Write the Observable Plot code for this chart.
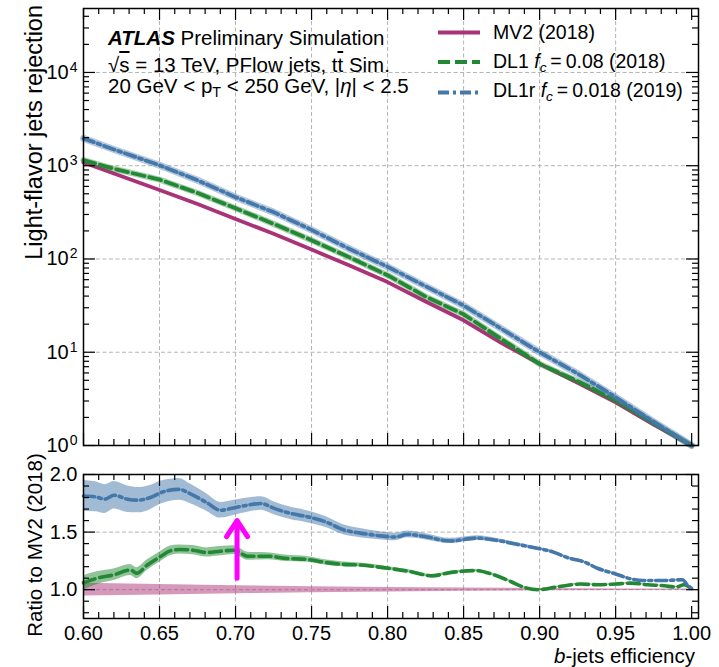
<!DOCTYPE html>
<html><head><meta charset="utf-8">
<script src="https://cdn.jsdelivr.net/npm/d3@7"></script>
<script src="https://cdn.jsdelivr.net/npm/@observablehq/plot@0.6"></script>
<style>
body{margin:0;background:#fff;}
#wrap{position:relative;width:719px;height:667px;font-family:"Liberation Sans",Arial,sans-serif;color:#000;overflow:hidden;}
#wrap svg{position:absolute;left:0;}
.abs{position:absolute;white-space:nowrap;line-height:1;}
.ov{text-decoration:overline;}
sub{font-size:0.7em;vertical-align:-0.3em;line-height:0;}
</style></head><body><div id="wrap"></div>
<script>
// ---------------- data ----------------
const effTop  = [0.60,0.62,0.65,0.675,0.70,0.725,0.75,0.775,0.80,0.825,0.85,0.875,0.90,0.925,0.95,0.975,1.00];
const rejMV2  = [1085,825,550,388,269,186,126,85,56.5,35,22,12.5,7.5,4.7,2.9,1.68,1.0];
const rejDL1  = [1147,927,710,510,350,238,159,104,67,39.5,25.5,13.8,7.5,4.9,3.05,1.75,1.0];
const rejDL1r = [1964,1492,1012,698,460,318,205,128,82.5,51,31.7,17.8,10,5.9,3.3,1.8,1.0];

const effRatioDL1r = [0.600,0.608,0.614,0.620,0.629,0.636,0.644,0.651,0.663,0.670,0.681,0.690,0.700,0.708,0.717,0.725,0.736,0.747,0.760,0.771,0.782,0.793,0.805,0.813,0.826,0.841,0.859,0.872,0.885,0.900,0.907,0.920,0.929,0.938,0.950,0.960,0.968,0.982,0.994,0.997,1.000];
const ratioDL1r    = [1.814,1.806,1.786,1.820,1.786,1.777,1.800,1.843,1.871,1.834,1.757,1.690,1.714,1.734,1.748,1.708,1.663,1.634,1.585,1.520,1.491,1.471,1.457,1.480,1.457,1.423,1.448,1.428,1.394,1.355,1.335,1.271,1.243,1.186,1.137,1.094,1.080,1.080,1.086,1.043,1.010];
const errDL1r      = [0.135,0.130,0.125,0.120,0.115,0.110,0.105,0.100,0.095,0.085,0.075,0.068,0.065,0.062,0.058,0.056,0.054,0.052,0.047,0.044,0.040,0.036,0.033,0.030,0.027,0.023,0.020,0.017,0.014,0.012,0.011,0.010,0.009,0.008,0.007,0.006,0.005,0.005,0.005,0.005,0.005];

const effRatioDL1 = [0.600,0.609,0.620,0.631,0.635,0.642,0.651,0.657,0.663,0.672,0.681,0.690,0.699,0.708,0.721,0.734,0.747,0.760,0.771,0.782,0.800,0.815,0.829,0.841,0.858,0.870,0.881,0.890,0.899,0.911,0.927,0.938,0.950,0.960,0.971,0.982,0.990,0.995,1.000];
const ratioDL1    = [1.060,1.100,1.129,1.171,1.143,1.214,1.291,1.337,1.349,1.343,1.323,1.334,1.343,1.291,1.291,1.271,1.263,1.235,1.220,1.214,1.186,1.157,1.120,1.148,1.166,1.129,1.071,1.020,1.000,1.023,1.049,1.043,1.049,1.057,1.043,1.034,1.023,1.043,1.006];
const errDL1      = [0.062,0.055,0.050,0.048,0.047,0.045,0.043,0.042,0.040,0.040,0.040,0.040,0.038,0.035,0.030,0.027,0.025,0.022,0.020,0.018,0.016,0.014,0.012,0.011,0.010,0.009,0.008,0.007,0.007,0.006,0.006,0.005,0.005,0.005,0.005,0.005,0.005,0.005,0.005];

const effRatioMV2 = [0.60,0.65,0.70,0.75,0.80,0.85,0.90,0.95,1.00];
const ratioMV2    = [1,1,1,1,1,1,1,1,1];
const errMV2      = [0.055,0.045,0.035,0.026,0.020,0.014,0.010,0.007,0.005];

const arrowAt = [{eff: 0.701, from: 1.10, to: 1.60}];

const xMajor = [0.60,0.65,0.70,0.75,0.80,0.85,0.90,0.95,1.00];
const xMinor = d3.range(60,101).filter(i => i % 5 !== 0).map(i => i/100);
const yMajorTop = [1,10,100,1000,10000];
const yMinorTop = [1,10,100,1000,10000].flatMap(d => [2,3,4,5,6,7,8,9].map(k => k*d)).filter(v => v < 4.85e4);
const yMajorBot = [1.0,1.5,2.0];
const yMinorBot = [0.8,0.9,1.1,1.2,1.3,1.4,1.6,1.7,1.8,1.9];
const xGrid = [0.65,0.70,0.75,0.80,0.85,0.90,0.95];

const C = {mv2: "#AA3377", dl1: "#228833", dl1r: "#4477AA"};
const series = [
  {name: "MV2 (2018)", color: C.mv2, dash: null},
  {name: "DL1", color: C.dl1, dash: "12,5"},
  {name: "DL1r", color: C.dl1r, dash: "11,4,3,4"}
];

// ---------------- layout ----------------
const W = 719, ML = 83, MR = 21;
const topH = 460, topMT = 8, topMB = 15;
const botTop = 460, botH = 207, botMT = 14, botMB = 49;
const innerW = W - ML - MR;
const fontStyle = {fontFamily: '"Liberation Sans", Arial, sans-serif', fontSize: "20px", background: "transparent", overflow: "visible"};

function frameTicks(innerH, yMaj, yMin) {
  const s = {stroke: "black", strokeWidth: 1.2};
  return [
    Plot.tickX(xMajor, {x: d => d, insetTop: innerH - 12, ...s}),
    Plot.tickX(xMajor, {x: d => d, insetBottom: innerH - 12, ...s}),
    Plot.tickX(xMinor, {x: d => d, insetTop: innerH - 6, ...s}),
    Plot.tickX(xMinor, {x: d => d, insetBottom: innerH - 6, ...s}),
    Plot.tickY(yMaj, {y: d => d, insetRight: innerW - 12, ...s}),
    Plot.tickY(yMaj, {y: d => d, insetLeft: innerW - 12, ...s}),
    Plot.tickY(yMin, {y: d => d, insetRight: innerW - 6, ...s}),
    Plot.tickY(yMin, {y: d => d, insetLeft: innerW - 6, ...s})
  ];
}
const gridStyle = {stroke: "#b3b3b3", strokeOpacity: 1, strokeWidth: 1, strokeDasharray: "4,2.5"};

const topData = effTop.map((e, i) => ({eff: e, mv2: rejMV2[i], dl1: rejDL1[i], dl1r: rejDL1r[i]}));

const topPlot = Plot.plot({
  width: W, height: topH,
  marginLeft: ML, marginRight: MR, marginTop: topMT, marginBottom: topMB,
  style: fontStyle,
  x: {domain: [0.6, 1.0045], axis: null},
  y: {type: "log", domain: [1, 4.85e4], axis: null},
  marks: [
    Plot.gridX(xGrid, gridStyle),
    Plot.gridY([10,100,1000,10000], gridStyle),
    Plot.line(topData, {x: "eff", y: "mv2", stroke: C.mv2, strokeWidth: 3.8}),
    Plot.line(topData, {x: "eff", y: "dl1", stroke: C.dl1, strokeWidth: 6, strokeOpacity: 0.4}),
    Plot.line(topData, {x: "eff", y: "dl1", stroke: C.dl1, strokeWidth: 3.8, strokeDasharray: "12,5"}),
    Plot.line(topData, {x: "eff", y: "dl1r", stroke: C.dl1r, strokeWidth: 7, strokeOpacity: 0.4}),
    Plot.line(topData, {x: "eff", y: "dl1r", stroke: C.dl1r, strokeWidth: 3.8, strokeDasharray: "11,4,3,4"}),
    ...frameTicks(topH - topMT - topMB, yMajorTop, yMinorTop),
    Plot.axisY(yMajorTop, {tickSize: 0, tickPadding: 6, label: null, fontSize: 20,
      tickFormat: d => "10^" + Math.round(Math.log10(d))}),
    Plot.frame({stroke: "black", strokeWidth: 1.5})
  ]
});

// render powers of ten as 10 with a raised exponent
topPlot.querySelectorAll('g[aria-label="y-axis tick label"] text').forEach(t => {
  const parts = t.textContent.split("^");
  if (parts.length !== 2) return;
  t.textContent = parts[0];
  const s = document.createElementNS("http://www.w3.org/2000/svg", "tspan");
  s.setAttribute("dy", "-7");
  s.setAttribute("dx", "1");
  s.setAttribute("font-size", "14");
  s.textContent = parts[1];
  t.appendChild(s);
});

const mk = (effs, rs, es) => effs.map((e, i) => ({eff: e, r: rs[i], e: es[i]}));
const dMV2 = mk(effRatioMV2, ratioMV2, errMV2);
const dDL1 = mk(effRatioDL1, ratioDL1, errDL1);
const dDL1r = mk(effRatioDL1r, ratioDL1r, errDL1r);

const botPlot = Plot.plot({
  width: W, height: botH,
  marginLeft: ML, marginRight: MR, marginTop: botMT, marginBottom: botMB,
  style: fontStyle,
  x: {domain: [0.6, 1.0045], axis: null},
  y: {domain: [0.75, 2.0], axis: null},
  marks: [
    Plot.gridX(xGrid, gridStyle),
    Plot.gridY([1.0, 1.5], gridStyle),
    Plot.areaY(dMV2, {x: "eff", y1: d => d.r - d.e, y2: d => d.r + d.e, fill: C.mv2, fillOpacity: 0.5}),
    Plot.areaY(dDL1, {x: "eff", y1: d => d.r - d.e, y2: d => d.r + d.e, fill: C.dl1, fillOpacity: 0.5, curve: "monotone-x"}),
    Plot.line(dDL1, {x: "eff", y: "r", stroke: C.dl1, strokeWidth: 3.6, strokeDasharray: "12,5", curve: "monotone-x"}),
    Plot.areaY(dDL1r, {x: "eff", y1: d => d.r - d.e, y2: d => d.r + d.e, fill: C.dl1r, fillOpacity: 0.5, curve: "monotone-x"}),
    Plot.line(dDL1r, {x: "eff", y: "r", stroke: C.dl1r, strokeWidth: 3.6, strokeDasharray: "11,4,3,4", curve: "monotone-x"}),
    Plot.arrow(arrowAt, {x1: "eff", y1: "from", x2: "eff", y2: "to", stroke: "#ff00ff", strokeWidth: 5, headLength: 7.5, headAngle: 66}),
    ...frameTicks(botH - botMT - botMB, yMajorBot, yMinorBot),
    Plot.axisY(yMajorBot, {tickSize: 0, tickPadding: 6, label: null, fontSize: 20, tickFormat: d3.format(".1f")}),
    Plot.axisX(xMajor, {tickSize: 0, tickPadding: 7, label: null, fontSize: 20, tickFormat: d3.format(".2f")}),
    Plot.frame({stroke: "black", strokeWidth: 1.5})
  ]
});

const wrap = document.getElementById("wrap");
topPlot.style.top = "0px";
botPlot.style.top = botTop + "px";
wrap.appendChild(topPlot);
wrap.appendChild(botPlot);

// ---------------- overlay: legend swatches and rotated axis titles ----------------
const NS = "http://www.w3.org/2000/svg";
const ov = document.createElementNS(NS, "svg");
ov.setAttribute("width", W); ov.setAttribute("height", 667);
ov.style.top = "0px"; ov.style.pointerEvents = "none";
ov.style.fontFamily = '"Liberation Sans", Arial, sans-serif';
const legendY = [32.5, 62, 92.5];
series.forEach((s, i) => {
  const l = document.createElementNS(NS, "line");
  l.setAttribute("x1", 438); l.setAttribute("x2", 480);
  l.setAttribute("y1", legendY[i]); l.setAttribute("y2", legendY[i]);
  l.setAttribute("stroke", s.color); l.setAttribute("stroke-width", 3.8);
  if (s.dash) l.setAttribute("stroke-dasharray", s.dash);
  ov.appendChild(l);
});
function vtext(txt, x, y, anchor, size) {
  const t = document.createElementNS(NS, "text");
  t.setAttribute("transform", `translate(${x},${y}) rotate(-90)`);
  t.setAttribute("text-anchor", anchor);
  t.setAttribute("font-size", size);
  t.textContent = txt;
  ov.appendChild(t);
}
vtext("Light-flavor jets rejection", 42, 5, "end", 23.5);
vtext("Ratio to MV2 (2018)", 42, 545, "middle", 20.5);
wrap.appendChild(ov);

// ---------------- HTML text ----------------
function html(h, left, baseline, size, extra) {
  const d = document.createElement("div");
  d.className = "abs";
  d.style.fontSize = size + "px";
  d.style.top = (baseline - 0.8465 * size) + "px";
  if (left !== null) d.style.left = left + "px";
  Object.assign(d.style, extra || {});
  d.innerHTML = h;
  wrap.appendChild(d);
}
html('<b><i>ATLAS</i></b> Preliminary Simulation', 108, 45, 20.5);
html('\u221a<span class="ov">s</span> = 13 TeV, PFlow jets, t<span class="ov">t</span> Sim.', 108, 72.5, 20.5);
html('20 GeV &lt; p<sub>T</sub> &lt; 250 GeV, |<i>\u03b7</i>| &lt; 2.5', 108, 93.5, 20.5);
html('MV2 (2018)', 493, 40, 19.5);
html('DL1 <i>f<sub>c</sub></i>\u2009=\u20090.08 (2018)', 493, 68.5, 19.5);
html('DL1r <i>f<sub>c</sub></i>\u2009=\u20090.018 (2019)', 493, 98, 19.5);
html('<i>b</i>-jets efficiency', null, 663, 20.5, {right: (W - 695) + "px"});
</script></body></html>
